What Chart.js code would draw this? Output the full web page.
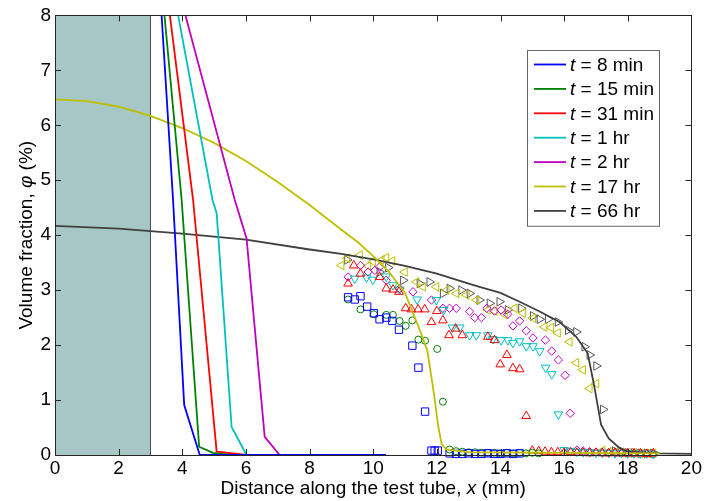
<!DOCTYPE html>
<html>
<head>
<meta charset="utf-8">
<script src="https://cdn.jsdelivr.net/npm/chart.js@4.4.0/dist/chart.umd.min.js"></script>
<style>
  html, body { margin: 0; padding: 0; background: #fff; }
  canvas { display: block; }
</style>
</head>
<body>
<canvas id="chart" width="704" height="501"></canvas>
<script>
// ---- model curves (solid lines) ----
const lineLabels = ['t = 8 min', 't = 15 min', 't = 31 min', 't = 1 hr', 't = 2 hr', 't = 17 hr', 't = 66 hr'];
const lineColors = ['#0000ff', '#008000', '#ff0000', '#00bfbf', '#bf00bf', '#bfbf00', '#404040'];

const x8min = [3.35, 3.71, 4.06, 4.55, 5.0, 10.4];
const y8min = [8, 4.64, 0.91, 0, 0, 0];
const x15min = [3.44, 3.98, 4.53, 4.96, 5.5, 10.4];
const y15min = [8, 4.64, 0.15, 0.04, 0, 0];
const x31min = [3.61, 4.34, 5.08, 6.02, 10.4];
const y31min = [8, 4.64, 0.06, 0, 0];
const x1hr = [3.87, 4.95, 5.08, 5.55, 6.02, 10.4];
const y1hr = [8, 4.64, 4.4, 0.51, 0, 0];
const x2hr = [4.10, 5.65, 6.02, 6.59, 7.06, 10.4];
const y2hr = [8, 4.64, 3.94, 0.33, 0, 0];
const x17hr = [0, 1, 2, 3, 4, 5, 6, 7, 8, 9, 9.5, 10, 10.5, 11, 11.5, 11.7, 11.9, 12.05, 12.15, 12.3, 13, 19];
const y17hr = [6.47, 6.44, 6.34, 6.17, 5.95, 5.68, 5.35, 4.97, 4.55, 4.1, 3.88, 3.62, 3.33, 2.95, 2.22, 1.9, 1.15, 0.5, 0.2, 0.1, 0.05, 0.03];
const x66hr = [0, 2, 4, 6, 8, 9, 10, 11, 12, 13, 13.34, 14, 14.6, 15.2, 15.86, 16.38, 16.74, 16.95, 17.16, 17.4, 17.69, 18, 19, 20];
const y66hr = [4.17, 4.12, 4.03, 3.92, 3.74, 3.66, 3.56, 3.44, 3.30, 3.12, 3.06, 2.95, 2.79, 2.62, 2.42, 2.15, 1.85, 1.24, 0.55, 0.3, 0.15, 0.06, 0.03, 0.02];

// ---- measured points (open markers) ----
const sqX = [9.21, 9.42, 9.60, 9.81, 10.02, 10.20, 10.41, 10.60, 10.81, 11.23, 11.42, 11.63, 11.83, 11.93, 12.03,
  12.4, 12.6, 12.8, 13.0, 13.2, 13.4, 13.6, 13.8, 14.0, 14.2, 14.4, 14.6];
const sqY = [2.87, 2.83, 2.89, 2.70, 2.58, 2.47, 2.50, 2.44, 2.28, 1.99, 1.59, 0.79, 0.08, 0.08, 0.08,
  0.03, 0.02, 0.02, 0.03, 0.02, 0.02, 0.03, 0.02, 0.02, 0.03, 0.02, 0.03];

const circX = [9.21, 9.60, 10.02, 10.41, 10.62, 10.83, 11.02, 11.23, 11.42, 11.63, 12.01, 12.19, 12.40,
  12.6, 12.8, 13.0, 13.2, 13.4, 13.6, 13.8, 14.0, 14.2, 14.4, 14.6, 14.8, 15.0, 15.2];
const circY = [2.83, 2.65, 2.56, 2.55, 2.55, 2.44, 2.35, 2.45, 2.10, 2.08, 1.93, 0.97, 0.10,
  0.07, 0.06, 0.05, 0.05, 0.04, 0.04, 0.04, 0.03, 0.04, 0.03, 0.04, 0.03, 0.04, 0.03];

const triUpX = [9.21, 9.39, 9.60, 10.20, 10.41, 10.62, 10.81, 11.02, 11.20, 11.41, 11.62, 11.83, 12.00, 12.19, 12.38, 12.59, 12.80,
  13.60, 13.81, 13.99, 14.20, 14.39, 14.60, 14.81,
  15.0, 15.2, 15.4, 15.6, 15.8, 16.0, 16.2, 16.4, 16.6, 16.8, 17.0, 17.2, 17.4, 17.6, 17.8, 18.0, 18.2, 18.4, 18.6, 18.8];
const triUpY = [3.12, 3.45, 3.30, 3.24, 3.03, 3.01, 2.97, 2.67, 2.65, 2.65, 2.65, 2.42, 2.62, 2.45, 2.18, 2.30, 2.18,
  2.15, 2.09, 1.65, 1.82, 1.58, 1.56, 0.71,
  0.08, 0.07, 0.06, 0.05, 0.05, 0.04, 0.05, 0.04, 0.04, 0.03, 0.04, 0.03, 0.03, 0.04, 0.03, 0.03, 0.03, 0.03, 0.02, 0.03];

const triDownX = [9.42, 9.79, 9.99, 10.41, 10.62, 10.83, 11.38, 11.98, 12.21, 12.49, 12.72, 13.03, 13.24, 13.60, 13.76, 14.02,
  14.23, 14.39, 14.60, 14.81, 15.02, 15.23, 15.42, 15.61, 15.82,
  16.0, 16.2, 16.4, 16.6, 16.8, 17.0, 17.2, 17.4, 17.6, 17.8, 18.0, 18.2, 18.4, 18.6, 18.8];
const triDownY = [3.21, 3.23, 3.19, 3.25, 3.09, 3.01, 2.83, 2.82, 2.64, 2.32, 2.32, 2.18, 2.18, 2.18, 2.11, 2.09,
  2.09, 2.04, 2.07, 1.98, 1.98, 1.89, 1.59, 1.47, 0.74,
  0.09, 0.07, 0.06, 0.05, 0.05, 0.04, 0.04, 0.04, 0.03, 0.04, 0.03, 0.03, 0.03, 0.03, 0.02];

const diamX = [9.21, 9.60, 9.84, 10.05, 10.20, 10.41, 10.83, 11.25, 11.83, 12.19, 12.40, 12.61, 13.03, 13.19, 13.40, 13.57,
  13.81, 14.02, 14.23, 14.39, 14.60, 14.81, 15.02, 15.41, 15.61, 15.82, 16.03, 16.19,
  16.4, 16.6, 16.8, 17.0, 17.2, 17.4, 17.6, 17.8, 18.0, 18.2, 18.4, 18.6, 18.8];
const diamY = [3.24, 3.45, 3.33, 3.36, 3.42, 3.18, 3.03, 2.97, 2.82, 2.67, 2.67, 2.67, 2.61, 2.50, 2.50, 2.67,
  2.62, 2.64, 2.56, 2.35, 2.44, 2.26, 2.13, 2.09, 1.89, 1.73, 1.45, 0.76,
  0.09, 0.07, 0.06, 0.05, 0.05, 0.04, 0.04, 0.03, 0.04, 0.03, 0.03, 0.03, 0.02];

const triLeftX = [9.00, 9.18, 9.58, 9.84, 9.99, 10.26, 10.41, 10.60, 10.99, 11.36, 11.56, 11.98, 12.30, 12.61, 12.93, 13.24,
  13.60, 13.81, 14.13, 14.44, 14.70, 15.02, 15.38, 15.59, 15.80, 16.17, 16.38, 16.59, 16.80, 17.01,
  17.2, 17.4, 17.6, 17.8, 18.0, 18.2, 18.4, 18.6, 18.8];
const triLeftY = [3.45, 3.58, 3.64, 3.44, 3.52, 3.55, 3.59, 3.53, 3.33, 3.15, 3.06, 3.06, 3.00, 2.94, 2.91, 2.82,
  2.64, 2.62, 2.56, 2.67, 2.58, 2.49, 2.33, 2.32, 2.22, 2.06, 1.68, 1.55, 1.21, 1.30,
  0.08, 0.06, 0.05, 0.05, 0.04, 0.04, 0.03, 0.03, 0.03];

const triRightX = [9.18, 10.20, 10.47, 10.94, 11.46, 11.77, 12.19, 12.40, 12.77, 13.03, 13.34, 13.66, 13.97, 14.23, 14.65,
  15.02, 15.23, 15.49, 15.80, 16.12, 16.38, 16.64, 16.80, 17.01, 17.22,
  17.6, 17.8, 18.0, 18.2, 18.4, 18.6, 18.8];
const triRightY = [3.55, 3.33, 3.41, 3.18, 3.12, 3.15, 2.94, 3.03, 3.00, 2.94, 2.82, 2.76, 2.79, 2.64, 2.67,
  2.53, 2.47, 2.47, 2.42, 2.27, 2.24, 1.97, 1.82, 1.62, 0.83,
  0.07, 0.05, 0.04, 0.04, 0.03, 0.03, 0.03];

// plug at the closed end of the tube
const plugX = [0, 3];
const plugTop = [8, 8];

const xTicks = [0, 2, 4, 6, 8, 10, 12, 14, 16, 18, 20];
const yTicks = [0, 1, 2, 3, 4, 5, 6, 7, 8];

const FONT = 'Arial, "Liberation Sans", sans-serif';
const AXIS_COLOR = '#262626';

function pts(xs, ys) {
  return xs.map((x, i) => ({ x, y: ys[i] }));
}

function curve(label, xs, ys, color) {
  return {
    type: 'line', label, data: pts(xs, ys),
    borderColor: color, borderWidth: 1.8, pointRadius: 0,
    fill: false, tension: 0, order: 1, isCurve: true
  };
}

function markers(xs, ys, color, style, radius, rotation) {
  return {
    type: 'scatter', data: pts(xs, ys),
    borderColor: color, backgroundColor: 'rgba(0,0,0,0)', borderWidth: 1,
    pointStyle: style, pointRadius: radius, pointRotation: rotation || 0,
    clip: false, order: 2
  };
}

const curves = [
  [x8min, y8min], [x15min, y15min], [x31min, y31min], [x1hr, y1hr],
  [x2hr, y2hr], [x17hr, y17hr], [x66hr, y66hr]
];

const datasets = [
  {
    type: 'line', data: pts(plugX, plugTop), fill: 'origin',
    backgroundColor: '#a7c7c6', borderWidth: 0, pointRadius: 0, order: 4
  },
  {
    type: 'line', data: pts([3, 3], [0, 8]), borderColor: '#4a4a4a',
    borderWidth: 1, pointRadius: 0, fill: false, order: 3
  },
  markers(sqX, sqY, '#0000ff', 'rect', 5.2),
  markers(circX, circY, '#008000', 'circle', 3.5),
  markers(triUpX, triUpY, '#ff0000', 'triangle', 5),
  markers(triDownX, triDownY, '#00bfbf', 'triangle', 5, 180),
  markers(diamX, diamY, '#bf00bf', 'rectRot', 4.2),
  markers(triLeftX, triLeftY, '#bfbf00', 'triangle', 5, -90),
  markers(triRightX, triRightY, '#555555', 'triangle', 5, 90)
];
curves.forEach((c, i) => datasets.push(curve(lineLabels[i], c[0], c[1], lineColors[i])));

// text with an italic run, e.g. the variable name
function richWidth(ctx, parts, size) {
  let w = 0;
  parts.forEach(p => {
    ctx.font = (p.i ? 'italic ' : '') + size + 'px ' + FONT;
    w += ctx.measureText(p.t).width;
  });
  return w;
}

function drawRich(ctx, parts, x, y, size) {
  parts.forEach(p => {
    ctx.font = (p.i ? 'italic ' : '') + size + 'px ' + FONT;
    ctx.fillText(p.t, x, y);
    x += ctx.measureText(p.t).width;
  });
}

// box around the axes with inward ticks on all four sides
const boxAxes = {
  id: 'boxAxes',
  afterDatasetsDraw(chart) {
    const { ctx, chartArea: a, scales } = chart;
    const len = 6;
    ctx.save();
    ctx.strokeStyle = AXIS_COLOR;
    ctx.lineWidth = 1;
    ctx.beginPath();
    xTicks.forEach(v => {
      const px = Math.round(scales.x.getPixelForValue(v)) + 0.5;
      ctx.moveTo(px, a.bottom); ctx.lineTo(px, a.bottom - len);
      ctx.moveTo(px, a.top); ctx.lineTo(px, a.top + len);
    });
    yTicks.forEach(v => {
      const py = Math.round(scales.y.getPixelForValue(v)) + 0.5;
      ctx.moveTo(a.left, py); ctx.lineTo(a.left + len, py);
      ctx.moveTo(a.right, py); ctx.lineTo(a.right - len, py);
    });
    ctx.stroke();
    ctx.strokeRect(Math.round(a.left) + 0.5, Math.round(a.top) + 0.5,
      Math.round(a.right - a.left), Math.round(a.bottom - a.top));

    // axis titles
    ctx.fillStyle = '#000';
    ctx.textBaseline = 'middle';
    ctx.textAlign = 'left';
    const xt = [{ t: 'Distance along the test tube, ' }, { t: 'x', i: true }, { t: ' (mm)' }];
    const xw = richWidth(ctx, xt, 19);
    drawRich(ctx, xt, (a.left + a.right) / 2 - xw / 2, 489, 19);
    const yt = [{ t: 'Volume fraction, ' }, { t: 'φ', i: true }, { t: ' (%)' }];
    const yw = richWidth(ctx, yt, 19);
    ctx.translate(27, (a.top + a.bottom) / 2);
    ctx.rotate(-Math.PI / 2);
    drawRich(ctx, yt, -yw / 2, 0, 19);
    ctx.restore();
  }
};

const curveLegend = {
  id: 'curveLegend',
  afterDraw(chart) {
    const ctx = chart.ctx;
    const items = chart.data.datasets.filter(d => d.isCurve);
    const left = 527.5, top = 50.5, width = 132, rowH = 24.4;
    const height = items.length * rowH + 5;
    ctx.save();
    ctx.fillStyle = '#fff';
    ctx.fillRect(left, top, width, height);
    ctx.strokeStyle = '#666';
    ctx.lineWidth = 1;
    ctx.strokeRect(left, top, width, height);
    ctx.textBaseline = 'middle';
    ctx.textAlign = 'left';
    items.forEach((d, i) => {
      const cy = top + 14 + i * rowH;
      ctx.strokeStyle = d.borderColor;
      ctx.lineWidth = 1.8;
      ctx.beginPath();
      ctx.moveTo(534, cy); ctx.lineTo(566, cy);
      ctx.stroke();
      ctx.fillStyle = '#000';
      drawRich(ctx, [{ t: d.label.slice(0, 1), i: true }, { t: d.label.slice(1) }], 570, cy + 1, 19);
    });
    ctx.restore();
  }
};

new Chart(document.getElementById('chart'), {
  type: 'scatter',
  data: { datasets },
  options: {
    responsive: false,
    animation: false,
    layout: { padding: { top: 15, right: 12, left: 0, bottom: 0 } },
    plugins: { legend: { display: false }, tooltip: { enabled: false } },
    scales: {
      x: {
        type: 'linear', min: 0, max: 20,
        afterBuildTicks: s => { s.ticks = xTicks.map(v => ({ value: v })); },
        ticks: { color: '#000', font: { family: FONT, size: 19 }, padding: 2, maxRotation: 0, autoSkip: false },
        grid: { display: false, drawTicks: false },
        border: { display: false },
        afterFit: s => { s.height = 46; }
      },
      y: {
        type: 'linear', min: 0, max: 8,
        afterBuildTicks: s => { s.ticks = yTicks.map(v => ({ value: v })); },
        ticks: { color: '#000', font: { family: FONT, size: 19 }, padding: 4, autoSkip: false },
        grid: { display: false, drawTicks: false },
        border: { display: false },
        afterFit: s => { s.width = 55; }
      }
    }
  },
  plugins: [boxAxes, curveLegend]
});
</script>
</body>
</html>
